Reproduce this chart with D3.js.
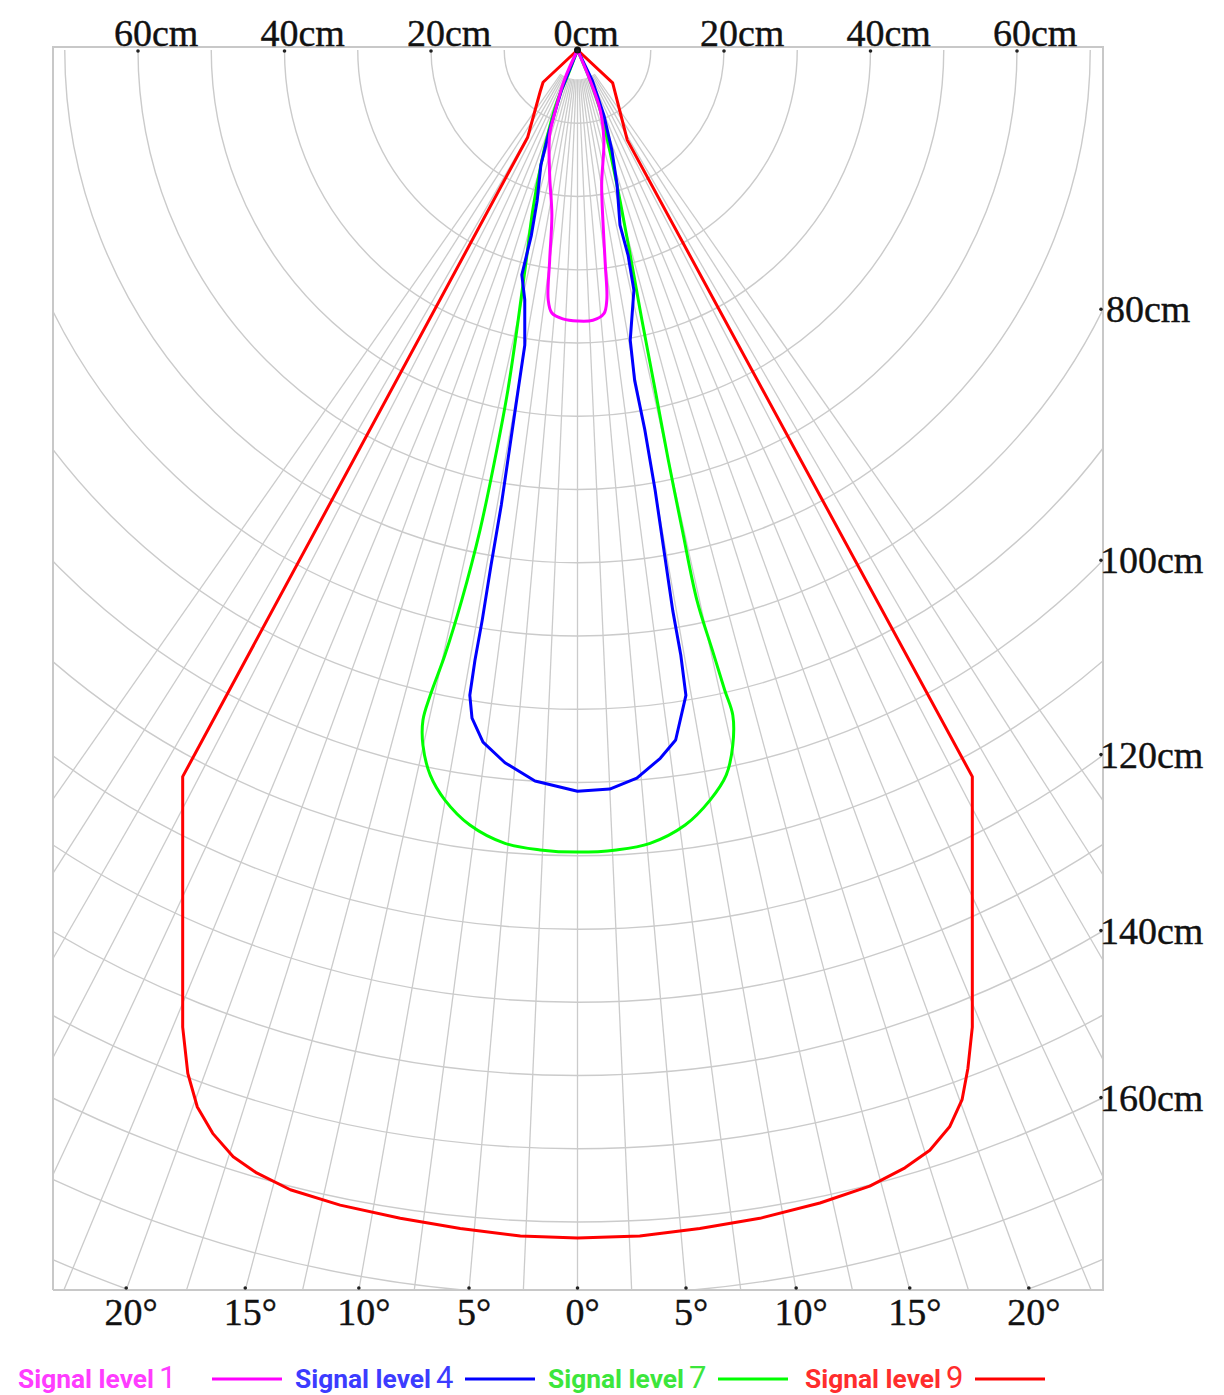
<!DOCTYPE html>
<html>
<head>
<meta charset="utf-8">
<script src="https://cdn.jsdelivr.net/npm/d3@7"></script>
<style>
  html, body { margin: 0; padding: 0; background: #fff; }
  svg { display: block; }
</style>
</head>
<body>
<svg id="chart" width="1224" height="1395"></svg>
<script>
// ---- data (lateral cm, depth cm) ----
const topTicksCm = [-60, -40, -20, 0, 20, 40, 60];
const topTickLabels = ['60cm', '40cm', '20cm', '0cm', '20cm', '40cm', '60cm'];
const sideTicksCm = [80, 100, 120, 140, 160];
const sideTickLabels = ['80cm', '100cm', '120cm', '140cm', '160cm'];
const angleTicks = [-20, -15, -10, -5, 0, 5, 10, 15, 20];
const angleTickLabels = ['20°', '15°', '10°', '5°', '0°', '5°', '10°', '15°', '20°'];
const arcRadiiCm = [10, 20, 30, 40, 50, 60, 70, 80, 90, 100, 110, 120, 130, 140, 150, 160, 170, 180];
const rayAnglesDeg = [-35, -32.5, -30, -27.5, -25, -22.5, -20, -17.5, -15, -12.5, -10, -7.5, -5, -2.5, 0,
  2.5, 5, 7.5, 10, 12.5, 15, 17.5, 20, 22.5, 25, 27.5, 30, 32.5, 35];

const seriesNames = ['Signal level', 'Signal level', 'Signal level', 'Signal level'];
const seriesLevels = ['1', '4', '7', '9'];
const seriesColors = ['#ff00ff', '#0000ff', '#00ff00', '#ff0000'];
const legendTextColors = ['#ff3cff', '#3c3cff', '#3ce63c', '#ff2d2d'];

const level1 = [[0, 0], [-1.8, 4.1], [-3.0, 8.2], [-3.8, 11.6], [-3.8, 17.1], [-3.5, 22.5], [-3.8, 28.7],
  [-4.0, 34.1], [-3.5, 35.9], [-2.0, 36.7], [0, 37.0], [2.1, 36.9], [3.6, 36.0], [4.0, 34.1], [3.8, 29.4],
  [3.5, 23.9], [3.3, 18.4], [3.6, 12.3], [3.1, 8.2], [1.7, 4.1], [0, 0]];
const level4 = [[0, 0], [-2.2, 5.5], [-3.8, 10.9], [-5.0, 15.7], [-5.5, 20.5], [-6.3, 25.3], [-7.6, 30.7],
  [-7.2, 34.1], [-7.2, 40.3], [-8.0, 45.7], [-9.2, 53.9], [-10.4, 62.1], [-11.8, 70.3], [-13.0, 77.8],
  [-14.0, 83.3], [-14.7, 88.1], [-14.4, 91.2], [-12.9, 94.5], [-9.9, 97.3], [-5.8, 99.8], [0, 101.2],
  [4.4, 100.9], [8.1, 99.4], [11.3, 96.7], [13.4, 94.2], [14.8, 88.1], [14.1, 82.6], [13.0, 76.5],
  [11.8, 68.3], [10.6, 60.1], [9.2, 51.9], [7.8, 45.1], [7.2, 39.6], [7.7, 32.8], [6.9, 28.0], [5.8, 23.9],
  [5.4, 18.4], [4.7, 13.7], [3.6, 8.9], [2.0, 4.1], [0, 0]];
const level7 = [[0, 0], [-1.3, 3.4], [-2.7, 6.8], [-3.9, 10.9], [-5.0, 15.7], [-6.1, 21.8], [-7.0, 28.7],
  [-8.1, 36.9], [-9.5, 46.4], [-11.3, 56.0], [-13.3, 65.5], [-15.8, 75.1], [-18.1, 82.6], [-20.1, 88.1],
  [-21.1, 91.5], [-21.1, 94.9], [-20.1, 99.0], [-18.1, 102.4], [-14.7, 105.8], [-9.9, 108.3], [-5.1, 109.2],
  [0, 109.5], [5.3, 109.2], [9.9, 108.3], [14.7, 105.8], [18.1, 102.4], [20.3, 99.0], [21.2, 94.9],
  [21.2, 90.8], [20.1, 87.4], [18.4, 81.9], [16.3, 75.1], [14.3, 65.5], [12.4, 56.0], [10.6, 46.4],
  [8.8, 36.9], [7.2, 28.0], [5.8, 20.5], [4.4, 13.7], [3.1, 8.2], [1.7, 4.1], [0, 0]];
const level9 = [[0, 0], [-4.7, 4.4], [-5.1, 5.7], [-6.8, 11.9], [-53.9, 99.2], [-53.9, 133.4],
  [-53.2, 139.7], [-51.9, 144.3], [-49.8, 147.9], [-47.0, 151.1], [-43.8, 153.3], [-39.2, 155.6],
  [-32.4, 157.7], [-24.2, 159.5], [-16.0, 160.9], [-7.8, 161.9], [0, 162.2], [8.5, 161.9], [16.7, 160.9],
  [24.9, 159.5], [33.1, 157.4], [39.9, 155.1], [44.7, 152.6], [48.1, 150.2], [50.8, 147.0], [52.5, 143.3],
  [53.3, 139.0], [53.9, 133.4], [53.9, 99.2], [6.8, 12.3], [4.8, 4.5], [0, 0]];

const seriesData = [level1, level4, level7, level9];

// ---- layout ----
const frame = { left: 53, right: 1103, top: 47, bottom: 1290 };
const x = d3.scaleLinear().domain([-60, 60]).range([138, 1017]);
const y = d3.scaleLinear().domain([0, 100]).range([50, 50 + (1017 - 138) / 120 * 100]);
const pxPerCm = (1017 - 138) / 120;
const ox = x(0), oy = y(0);
const gridColor = '#cbcbcb';
const serif = '"Liberation Serif", "DejaVu Serif", serif';

const svg = d3.select('#chart');

svg.append('rect').attr('width', 1224).attr('height', 1395).attr('fill', '#fff');

svg.append('clipPath').attr('id', 'plot-clip')
  .append('rect')
  .attr('x', frame.left).attr('y', frame.top)
  .attr('width', frame.right - frame.left).attr('height', frame.bottom - frame.top);

const grid = svg.append('g').attr('clip-path', 'url(#plot-clip)');

// concentric distance arcs
grid.selectAll('path.arc')
  .data(arcRadiiCm)
  .join('path')
  .attr('class', 'arc')
  .attr('d', (r) => {
    const p = d3.path();
    p.arc(ox, oy, r * pxPerCm, 0, Math.PI);
    return p.toString();
  })
  .attr('fill', 'none')
  .attr('stroke', gridColor)
  .attr('stroke-width', 1.4);

// angle rays
const rayStart = 4, rayEnd = 260;
grid.selectAll('line.ray')
  .data(rayAnglesDeg)
  .join('line')
  .attr('class', 'ray')
  .attr('x1', (a) => x(rayStart * Math.sin(a * Math.PI / 180)))
  .attr('y1', (a) => y(rayStart * Math.cos(a * Math.PI / 180)))
  .attr('x2', (a) => x(rayEnd * Math.sin(a * Math.PI / 180)))
  .attr('y2', (a) => y(rayEnd * Math.cos(a * Math.PI / 180)))
  .attr('stroke', gridColor)
  .attr('stroke-width', 1.3);

// frame
svg.append('path')
  .attr('d', `M${frame.left},${frame.bottom}V${frame.top}H${frame.right}V${frame.bottom}H${frame.left}`)
  .attr('fill', 'none')
  .attr('stroke', '#c8c8c8')
  .attr('stroke-width', 2);

// beam curves
const curveFor = (i) => (i === 1 || i === 3 ? d3.curveLinear : d3.curveCatmullRom.alpha(0.5));
const order = [3, 2, 1, 0];
svg.append('g')
  .selectAll('path')
  .data(order)
  .join('path')
  .attr('d', (i) => d3.line().x((d) => x(d[0])).y((d) => y(d[1])).curve(curveFor(i))(seriesData[i]))
  .attr('fill', 'none')
  .attr('stroke', (i) => seriesColors[i])
  .attr('stroke-width', 3)
  .attr('stroke-linejoin', 'round');

// origin dot
svg.append('circle').attr('cx', ox).attr('cy', oy).attr('r', 3.5).attr('fill', '#111');

const axisText = (sel) => sel
  .attr('font-family', serif)
  .attr('font-size', 38)
  .attr('fill', '#111')
  .attr('stroke', '#111')
  .attr('stroke-width', 0.4);

// top axis
const topAxis = svg.append('g');
topAxis.selectAll('circle')
  .data(topTicksCm)
  .join('circle')
  .attr('cx', (d) => x(d)).attr('cy', frame.top + 4).attr('r', 1.8).attr('fill', '#222');
topAxis.selectAll('text')
  .data(topTicksCm)
  .join('text')
  .attr('x', (d) => x(d) - 24)
  .attr('y', frame.top - 1)
  .call(axisText)
  .text((d, i) => topTickLabels[i]);

// right axis: where distance arcs meet the right edge
const edgeCm = x.invert(frame.right) - x.invert(ox);
const sideY = (r) => y(Math.sqrt(r * r - edgeCm * edgeCm));
const sideAxis = svg.append('g');
sideAxis.selectAll('circle')
  .data(sideTicksCm)
  .join('circle')
  .attr('cx', frame.right - 2).attr('cy', sideY).attr('r', 1.8).attr('fill', '#222');
sideAxis.selectAll('text')
  .data(sideTicksCm)
  .join('text')
  .attr('x', (d, i) => (sideTickLabels[i].length > 4 ? frame.right - 3 : frame.right + 3))
  .attr('y', (d) => sideY(d) + 13)
  .call(axisText)
  .text((d, i) => sideTickLabels[i]);

// bottom axis: where angle rays meet the bottom edge
const bottomCm = y.invert(frame.bottom);
const angleX = (a) => x(bottomCm * Math.tan(a * Math.PI / 180));
const bottomAxis = svg.append('g');
bottomAxis.selectAll('circle')
  .data(angleTicks)
  .join('circle')
  .attr('cx', angleX).attr('cy', frame.bottom - 2).attr('r', 1.8).attr('fill', '#222');
bottomAxis.selectAll('text')
  .data(angleTicks)
  .join('text')
  .attr('x', (d) => angleX(d) + 5)
  .attr('y', frame.bottom + 35)
  .attr('text-anchor', 'middle')
  .call(axisText)
  .text((d, i) => angleTickLabels[i]);

// legend
const legendX = [18, 295, 548, 805];
const legendLineX = [212, 465, 718, 975];
const legendY = 1388;
const legend = svg.append('g')
  .selectAll('g')
  .data(seriesLevels)
  .join('g');

legend.append('text')
  .attr('x', (d, i) => legendX[i])
  .attr('y', legendY)
  .attr('font-family', '"Liberation Sans Narrow", "Roboto", "Liberation Sans", sans-serif')
  .attr('font-size', 26)
  .attr('font-weight', 'bold')
  .attr('textLength', 136)
  .attr('lengthAdjust', 'spacingAndGlyphs')
  .attr('fill', (d, i) => legendTextColors[i])
  .text((d, i) => seriesNames[i]);

legend.append('text')
  .attr('x', (d, i) => legendX[i] + 141)
  .attr('y', legendY)
  .attr('font-family', '"Liberation Sans Narrow", "Roboto", sans-serif')
  .attr('font-size', 31)
  .attr('fill', (d, i) => legendTextColors[i])
  .text((d) => d);

legend.append('line')
  .attr('x1', (d, i) => legendLineX[i]).attr('x2', (d, i) => legendLineX[i] + 70)
  .attr('y1', legendY - 9).attr('y2', legendY - 9)
  .attr('stroke', (d, i) => seriesColors[i])
  .attr('stroke-width', 3);
</script>
</body>
</html>
